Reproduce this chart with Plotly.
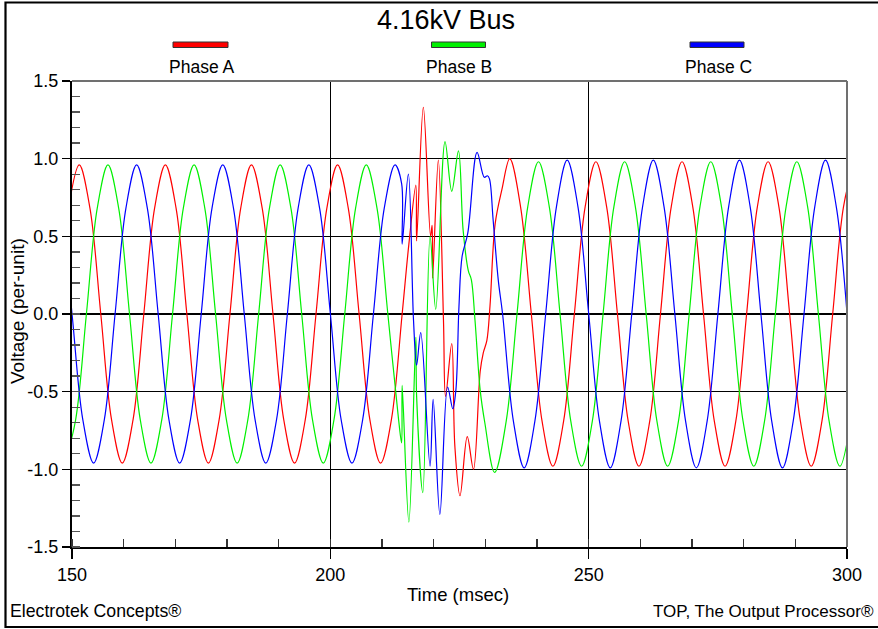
import plotly.graph_objects as go

# ---------------- data ----------------
x_ticks = [150, 200, 250, 300]
y_ticks = [-1.5, -1.0, -0.5, 0.0, 0.5, 1.0, 1.5]
y_tick_text = ["-1.5", "-1.0", "-0.5", "0.0", "0.5", "1.0", "1.5"]

t_a = [149.32, 151.40, 153.48, 155.57, 157.65, 159.73, 161.82, 163.90, 165.98, 168.07,
       170.15, 172.23, 174.32, 176.40, 178.48, 180.57, 182.65, 184.73, 186.82, 188.90,
       190.98, 193.07, 195.15, 197.23, 199.32, 201.40, 203.48, 205.57, 207.65, 209.73,
       211.82, 213.90,
       215.20, 216.55, 216.70, 218.00, 219.40, 219.70, 219.80, 220.90, 221.90, 222.30,
       223.50, 224.10, 225.10, 226.50, 227.70, 229.00, 229.60, 230.30, 230.90, 231.90,
       233.20,
       234.73, 236.82, 238.90, 240.98, 243.07, 245.15, 247.23, 249.32, 251.40, 253.48,
       255.57, 257.65, 259.73, 261.82, 263.90, 265.98, 268.07, 270.15, 272.23, 274.32,
       276.40, 278.48, 280.57, 282.65, 284.73, 286.82, 288.90, 290.98, 293.07, 295.15,
       297.23, 299.32, 301.40]
v_a = [0.68, 0.96, 0.68, 0.00, -0.68, -0.96, -0.68, 0.00, 0.68, 0.96,
       0.68, 0.00, -0.68, -0.96, -0.68, 0.00, 0.68, 0.96, 0.68, 0.00,
       -0.68, -0.96, -0.68, 0.00, 0.68, 0.96, 0.68, 0.00, -0.68, -0.96,
       -0.68, 0.00,
       0.45, 0.83, 0.47, 1.33, 0.50, 0.57, 0.23, 0.99, -0.04, -0.53,
       -0.19, -0.85, -1.17, -0.79, -1.00, -0.37, -0.25, -0.17, 0.05, 0.58,
       0.80,
       1.00, 0.69, 0.00, -0.69, -0.98, -0.69, 0.00, 0.69, 0.98, 0.69,
       0.00, -0.69, -0.98, -0.69, 0.00, 0.69, 0.98, 0.69, 0.00, -0.69,
       -0.98, -0.69, 0.00, 0.69, 0.98, 0.69, 0.00, -0.69, -0.98, -0.69,
       0.00, 0.69, 0.98]

t_b = [148.63, 150.71, 152.79, 154.88, 156.96, 159.04, 161.13, 163.21, 165.29, 167.38,
       169.46, 171.54, 173.63, 175.71, 177.79, 179.88, 181.96, 184.04, 186.13, 188.21,
       190.29, 192.38, 194.46, 196.54, 198.63, 200.71, 202.79, 204.88, 206.96, 209.04,
       211.13, 213.21,
       213.80, 213.90, 215.20, 216.55, 216.70, 217.90, 219.30, 220.40, 222.20, 223.50,
       224.80, 225.70, 226.70, 227.30, 228.00, 229.00, 229.90, 231.80,
       234.04, 236.13, 238.21, 240.29, 242.38, 244.46, 246.54, 248.63, 250.71, 252.79,
       254.88, 256.96, 259.04, 261.13, 263.21, 265.29, 267.38, 269.46, 271.54, 273.63,
       275.71, 277.79, 279.88, 281.96, 284.04, 286.13, 288.21, 290.29, 292.38, 294.46,
       296.54, 298.63, 300.71]
v_b = [-0.96, -0.68, 0.00, 0.68, 0.96, 0.68, 0.00, -0.68, -0.96, -0.68,
       0.00, 0.68, 0.96, 0.68, 0.00, -0.68, -0.96, -0.68, 0.00, 0.68,
       0.96, 0.68, 0.00, -0.68, -0.96, -0.68, 0.00, 0.68, 0.96, 0.68,
       0.00, -0.68,
       -0.83, -0.46, -1.34, -0.15, -0.53, -1.15, 0.50, 0.03, 1.11, 0.79,
       1.05, 0.54, 0.28, 0.22, -0.04, -0.49, -0.70, -1.02,
       -0.69, 0.00, 0.69, 0.98, 0.69, 0.00, -0.69, -0.98, -0.69, 0.00,
       0.69, 0.98, 0.69, 0.00, -0.69, -0.98, -0.69, 0.00, 0.69, 0.98,
       0.69, 0.00, -0.69, -0.98, -0.69, 0.00, 0.69, 0.98, 0.69, 0.00,
       -0.69, -0.98, -0.69]

t_c = [147.93, 150.01, 152.09, 154.18, 156.26, 158.34, 160.43, 162.51, 164.59, 166.68,
       168.76, 170.84, 172.93, 175.01, 177.09, 179.18, 181.26, 183.34, 185.43, 187.51,
       189.59, 191.68, 193.76, 195.84, 197.93, 200.01, 202.09, 204.18, 206.26, 208.34,
       210.43, 212.51,
       213.80, 213.90, 215.10, 216.10, 216.70, 217.50, 219.30, 219.90, 221.20, 222.70,
       223.70, 224.30, 224.90, 225.50, 226.60, 228.40, 229.80, 230.40, 230.80, 231.50,
       232.50,
       233.34, 235.43, 237.51, 239.59, 241.68, 243.76, 245.84, 247.93, 250.01, 252.09,
       254.18, 256.26, 258.34, 260.43, 262.51, 264.59, 266.68, 268.76, 270.84, 272.93,
       275.01, 277.09, 279.18, 281.26, 283.34, 285.43, 287.51, 289.59, 291.68, 293.76,
       295.84, 297.93, 300.01]
v_c = [0.68, 0.00, -0.68, -0.96, -0.68, 0.00, 0.68, 0.96, 0.68, 0.00,
       -0.68, -0.96, -0.68, 0.00, 0.68, 0.96, 0.68, 0.00, -0.68, -0.96,
       -0.68, 0.00, 0.68, 0.96, 0.68, 0.00, -0.68, -0.96, -0.68, 0.00,
       0.68, 0.96,
       0.84, 0.45, 0.90, -0.04, -0.33, -0.12, -0.98, -0.55, -1.29, -0.47,
       -0.61, -0.49, 0.05, 0.37, 0.52, 1.04, 0.88, 0.89, 0.87, 0.61,
       0.22,
       0.00, -0.69, -0.99, -0.69, 0.00, 0.69, 0.99, 0.69, 0.00, -0.69,
       -0.99, -0.69, 0.00, 0.69, 0.99, 0.69, 0.00, -0.69, -0.99, -0.69,
       0.00, 0.69, 0.99, 0.69, 0.00, -0.69, -0.99, -0.69, 0.00, 0.69,
       0.99, 0.69, 0.00]

series_names = ["Phase A", "Phase B", "Phase C"]
series_colors = ["#ff0000", "#00f000", "#0000ff"]

# ---------------- layout helpers ----------------
W, H = 878, 629
L, R, T, B = 72, 847, 81, 547
FONT = "Liberation Sans, Arial, Helvetica, sans-serif"


def fx(px):
    return (px - L) / (R - L)


def fy(py):
    return (B - py) / (B - T)


fig = go.Figure()
for t, v, name, col in zip([t_a, t_b, t_c], [v_a, v_b, v_c], series_names, series_colors):
    fig.add_trace(go.Scatter(
        x=t, y=v, mode="lines", name=name, showlegend=False, hoverinfo="skip",
        line=dict(color=col, width=1.2, shape="spline", smoothing=1.0),
    ))

fig.update_layout(
    width=W, height=H,
    margin=dict(l=L, r=W - R, t=T, b=H - B, pad=0),
    paper_bgcolor="white", plot_bgcolor="white",
    showlegend=False,
    font=dict(family=FONT, color="black"),
    xaxis=dict(
        range=[150, 300], tickmode="array", tickvals=x_ticks,
        ticktext=[str(v) for v in x_ticks],
        ticks="outside", ticklen=10, tickwidth=1.5, tickcolor="black",
        showline=True, linecolor="black", linewidth=2,
        showgrid=True, gridcolor="black", gridwidth=1.3, zeroline=False,
        tickfont=dict(size=18, family=FONT, color="black"),
        minor=dict(tickmode="linear", tick0=150, dtick=10, ticks="inside",
                   ticklen=8, tickwidth=1.3, tickcolor="#333333", showgrid=False),
        fixedrange=True,
    ),
    yaxis=dict(
        range=[-1.5, 1.5], tickmode="array", tickvals=y_ticks, ticktext=y_tick_text,
        ticks="outside", ticklen=8, tickwidth=1.5, tickcolor="black",
        showline=True, linecolor="black", linewidth=2,
        showgrid=True, gridcolor="black", gridwidth=1.3, zeroline=False,
        tickfont=dict(size=18, family=FONT, color="black"),
        minor=dict(tickmode="linear", tick0=-1.5, dtick=0.1, ticks="inside",
                   ticklen=8, tickwidth=1.3, tickcolor="#555555", showgrid=False),
        fixedrange=True,
    ),
)

shapes = [
    # gray top and right frame of the plot area
    dict(type="line", xref="paper", yref="paper", x0=0, x1=1, y0=1, y1=1,
         line=dict(color="#707070", width=2), layer="above"),
    dict(type="line", xref="paper", yref="paper", x0=1, x1=1, y0=0, y1=1,
         line=dict(color="#707070", width=2), layer="above"),
    # outer picture frame
    dict(type="rect", xref="paper", yref="paper", x0=fx(5.5), x1=fx(884),
         y0=fy(627), y1=fy(2.5), line=dict(color="black", width=2.2),
         fillcolor="rgba(0,0,0,0)", layer="above"),
]
legend_bars = [(173, 228), (431.5, 485.5), (690, 744)]
for (x0, x1), col in zip(legend_bars, series_colors):
    shapes.append(dict(type="rect", xref="paper", yref="paper",
                       x0=fx(x0), x1=fx(x1), y0=fy(47.5), y1=fy(42),
                       fillcolor=col, line=dict(color="#333333", width=1)))
fig.update_layout(shapes=shapes)

ann = []


def add_text(text, px, py, size, xanchor="center", angle=0):
    ann.append(dict(text=text, x=fx(px), y=fy(py), xref="paper", yref="paper",
                    xanchor=xanchor, yanchor="middle", showarrow=False,
                    textangle=angle, font=dict(size=size, family=FONT, color="black")))


add_text("4.16kV Bus", 446, 20, 27)
for name, cx in zip(series_names, [201.5, 458.5, 718]):
    add_text(name, cx, 67, 17.5)
add_text("Time (msec)", 458, 594, 18.5)
add_text("Voltage (per-unit)", 17, 311, 19, angle=-90)
add_text("Electrotek Concepts®", 8, 611, 17.7, xanchor="left")
add_text("TOP, The Output Processor®", 876, 611, 17, xanchor="right")
fig.update_layout(annotations=ann)

fig.write_html(
    "out.html",
    config={"displayModeBar": False, "staticPlot": True},
    post_script="document.body.style.margin='0';document.body.style.overflow='hidden';",
)
